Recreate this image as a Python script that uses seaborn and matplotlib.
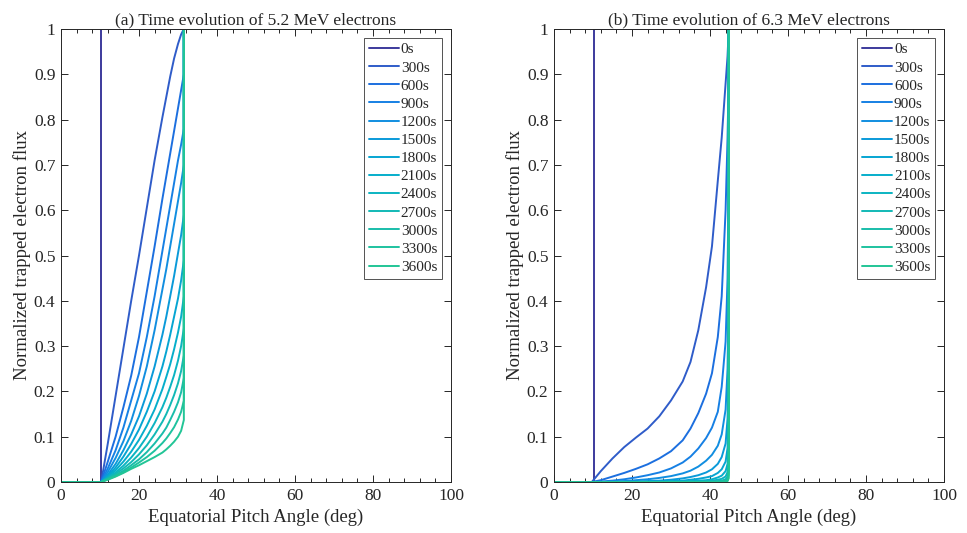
import numpy as np
import pandas as pd
import matplotlib
matplotlib.use("Agg")
import matplotlib.pyplot as plt
import seaborn as sns
from matplotlib.ticker import MultipleLocator

# ---------------- data ----------------
times = [0, 300, 600, 900, 1200, 1500, 1800, 2100, 2400, 2700, 3000, 3300, 3600]
labels = [f"{t}s" for t in times]

# panel (a): 5.2 MeV
a_loss_cone = 10.3      # pitch angle where the t=0 distribution jumps to 1
a_edge = 31.5           # pitch angle where the evolved curves jump back to 1
a_angle = [10.3, 12, 14, 16, 18, 20, 22, 24, 26, 27, 28, 29, 30, 30.8, 31.5]
a_flux = [
    [0, 0.085, 0.19, 0.295, 0.40, 0.50, 0.605, 0.71, 0.805, 0.85, 0.895, 0.935, 0.967, 0.988, 1.0],  # 300s
    [0, 0.045, 0.10, 0.165, 0.235, 0.32, 0.42, 0.52, 0.625, 0.675, 0.725, 0.775, 0.825, 0.865, 0.90], # 600s
    [0, 0.030, 0.07, 0.12, 0.18, 0.24, 0.32, 0.41, 0.51, 0.56, 0.61, 0.66, 0.71, 0.745, 0.78],      # 900s
    [0, 0.022, 0.053, 0.09, 0.135, 0.19, 0.255, 0.335, 0.425, 0.47, 0.52, 0.57, 0.62, 0.66, 0.70],  # 1200s
    [0, 0.016, 0.040, 0.07, 0.105, 0.145, 0.195, 0.255, 0.325, 0.365, 0.41, 0.455, 0.505, 0.545, 0.59],# 1500s
    [0, 0.013, 0.032, 0.056, 0.084, 0.116, 0.155, 0.20, 0.255, 0.288, 0.325, 0.365, 0.405, 0.445, 0.49],# 1800s
    [0, 0.011, 0.026, 0.045, 0.067, 0.093, 0.124, 0.16, 0.205, 0.232, 0.26, 0.293, 0.33, 0.365, 0.41],# 2100s
    [0, 0.009, 0.021, 0.036, 0.054, 0.075, 0.10, 0.13, 0.165, 0.186, 0.21, 0.236, 0.268, 0.30, 0.34], # 2400s
    [0, 0.008, 0.018, 0.030, 0.044, 0.061, 0.081, 0.105, 0.133, 0.15, 0.17, 0.192, 0.218, 0.245, 0.28],# 2700s
    [0, 0.007, 0.015, 0.025, 0.037, 0.050, 0.066, 0.085, 0.107, 0.12, 0.137, 0.155, 0.176, 0.198, 0.23],# 3000s
    [0, 0.006, 0.013, 0.022, 0.032, 0.043, 0.055, 0.069, 0.086, 0.096, 0.108, 0.121, 0.138, 0.155, 0.18],# 3300s
    [0, 0.005, 0.012, 0.020, 0.029, 0.037, 0.046, 0.055, 0.065, 0.072, 0.080, 0.089, 0.10, 0.113, 0.137],# 3600s
]

# panel (b): 6.3 MeV
b_loss_cone = 10.3
b_edge = 44.8
b_angle = [9.7, 12, 15, 18, 21, 24, 27, 30, 33, 35, 37, 39, 40.5, 42, 43, 44, 44.5, 44.8]
b_flux = [
    [0, 0.024, 0.052, 0.077, 0.098, 0.118, 0.145, 0.18, 0.222, 0.265, 0.335, 0.43, 0.52, 0.665, 0.76, 0.88, 0.94, 1.0],
    [0, 0.004, 0.012, 0.020, 0.029, 0.039, 0.052, 0.068, 0.092, 0.118, 0.152, 0.195, 0.24, 0.32, 0.41, 0.60, 0.76, 0.90],
    [0, 0.001, 0.003, 0.006, 0.010, 0.015, 0.021, 0.030, 0.043, 0.056, 0.074, 0.097, 0.12, 0.155, 0.21, 0.31, 0.45, 0.70],
    [0, 0, 0.001, 0.002, 0.004, 0.006, 0.009, 0.013, 0.019, 0.025, 0.034, 0.047, 0.06, 0.08, 0.105, 0.16, 0.25, 0.45],
    [0, 0, 0, 0.001, 0.001, 0.002, 0.003, 0.005, 0.008, 0.011, 0.015, 0.021, 0.028, 0.04, 0.055, 0.085, 0.14, 0.30],
    [0, 0, 0, 0, 0, 0.001, 0.001, 0.002, 0.003, 0.005, 0.007, 0.010, 0.013, 0.02, 0.028, 0.045, 0.075, 0.20],
    [0, 0, 0, 0, 0, 0, 0, 0.001, 0.001, 0.002, 0.003, 0.004, 0.006, 0.010, 0.014, 0.024, 0.04, 0.12],
    [0, 0, 0, 0, 0, 0, 0, 0, 0, 0.001, 0.001, 0.002, 0.003, 0.005, 0.007, 0.012, 0.022, 0.07],
    [0, 0, 0, 0, 0, 0, 0, 0, 0, 0, 0, 0.001, 0.001, 0.002, 0.003, 0.006, 0.012, 0.04],
    [0, 0, 0, 0, 0, 0, 0, 0, 0, 0, 0, 0, 0, 0.001, 0.001, 0.003, 0.006, 0.025],
    [0, 0, 0, 0, 0, 0, 0, 0, 0, 0, 0, 0, 0, 0, 0.001, 0.001, 0.003, 0.015],
    [0, 0, 0, 0, 0, 0, 0, 0, 0, 0, 0, 0, 0, 0, 0, 0.001, 0.002, 0.008],
]
max_angle = 90

titles = ["(a) Time evolution of 5.2 MeV electrons",
          "(b) Time evolution of 6.3 MeV electrons"]

colors = ["#3c3a9c", "#2f5cc9", "#1c6fdf", "#1680e4", "#118ee0", "#0a9ad9",
          "#06a5d2", "#06aecb", "#0bb4c2", "#12b9b6", "#19bdaa", "#1ec29f",
          "#22c596"]

# ---------------- style ----------------
sns.set_theme(style="ticks")
plt.rcParams["font.family"] = ["Liberation Serif", "DejaVu Serif"]
ink = "#262626"

fig = plt.figure(figsize=(9.67, 5.33), dpi=100)
ax_a = fig.add_axes([61 / 967, 1 - 482 / 533, 390 / 967, 453 / 533])
ax_b = fig.add_axes([554 / 967, 1 - 482 / 533, 390 / 967, 453 / 533])


def build_long(loss_cone, edge, angle, flux):
    rows = []
    xs = [0, loss_cone, loss_cone, max_angle]
    ys = [0, 0, 1, 1]
    for i, (x, y) in enumerate(zip(xs, ys)):
        rows.append((labels[0], i, x, y))
    for k, vals in enumerate(flux):
        xs = [0] + list(angle) + [edge, max_angle]
        ys = [0] + list(vals) + [1, 1]
        for i, (x, y) in enumerate(zip(xs, ys)):
            rows.append((labels[k + 1], i, x, y))
    return pd.DataFrame(rows, columns=["time", "order", "angle", "flux"])


panels = [(ax_a, a_loss_cone, a_edge, a_angle, a_flux),
          (ax_b, b_loss_cone, b_edge, b_angle, b_flux)]

for idx, (ax, lc, ed, ang, fl) in enumerate(panels):
    df = build_long(lc, ed, ang, fl)
    for k, lab in enumerate(labels):
        sub = df[df["time"] == lab].sort_values("order")
        sns.lineplot(data=sub, x="angle", y="flux", sort=False, estimator=None,
                     color=colors[k], lw=1.4, ax=ax, label=lab)
    ax.set_xlim(0, 100)
    ax.set_ylim(0, 1)
    ax.xaxis.set_major_locator(MultipleLocator(20))
    ax.xaxis.set_minor_locator(MultipleLocator(4))
    ax.set_yticks(np.arange(0, 1.01, 0.1))
    ax.set_yticklabels(["0"] + [f"{v:.1f}" for v in np.arange(0.1, 0.95, 0.1)] + ["1"])
    ax.tick_params(which="both", direction="in", top=True, right=True,
                   colors=ink, labelcolor=ink, labelsize=12.5, width=0.7)
    ax.tick_params(which="major", length=5, pad=4)
    ax.tick_params(which="minor", length=3)
    for s in ax.spines.values():
        s.set_color(ink)
        s.set_linewidth(0.7)
    ax.set_xlabel("Equatorial Pitch Angle (deg)", fontsize=13.5, color=ink, labelpad=4)
    ax.set_ylabel("Normalized trapped electron flux", fontsize=13.5, color=ink, labelpad=2)
    ax.set_title(titles[idx], fontsize=12.5, color=ink, pad=3)
    leg = ax.legend(loc="upper right", fontsize=11, frameon=True, fancybox=False,
                    handlelength=2.0, handletextpad=0.1, labelspacing=0.29,
                    borderpad=0.3, borderaxespad=0.6)
    leg.get_frame().set_edgecolor(ink)
    leg.get_frame().set_linewidth(0.7)
    for t in leg.get_texts():
        t.set_color(ink)

fig.savefig("out.png", dpi=100)
